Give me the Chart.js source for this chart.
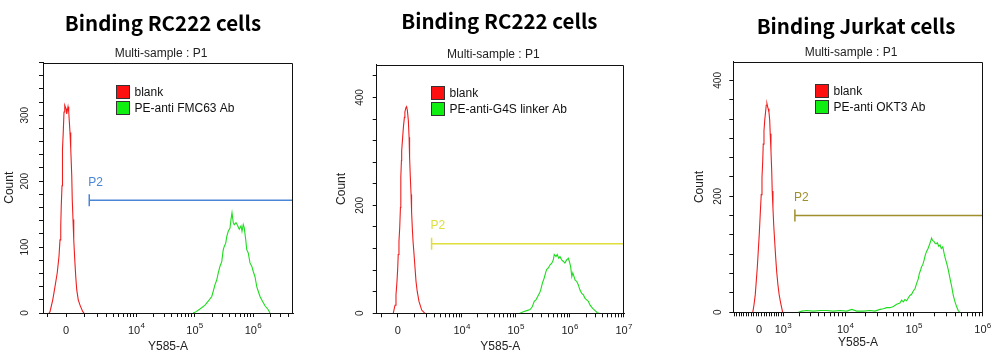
<!DOCTYPE html>
<html><head><meta charset="utf-8">
<script src="https://cdn.jsdelivr.net/npm/chart.js@4.4.1/dist/chart.umd.min.js"></script>
<style>
html,body{margin:0;padding:0;background:#fff;width:1000px;height:354px;overflow:hidden}
canvas{position:absolute;top:0}
</style></head><body>
<canvas id="c0" width="330" height="354" style="left:0px"></canvas>
<canvas id="c1" width="330" height="354" style="left:330px"></canvas>
<canvas id="c2" width="340" height="354" style="left:660px"></canvas>
<script>
// ---------- texts ----------
const titles = ['Binding RC222 cells', 'Binding RC222 cells', 'Binding Jurkat cells'];
const subtitleText = 'Multi-sample : P1';
const xAxisTitle = 'Y585-A';
const yAxisTitle = 'Count';
const blankLabel = 'blank';
const stainLabels = ['PE-anti FMC63 Ab', 'PE-anti-G4S linker Ab', 'PE-anti OKT3 Ab'];
const gateLabel = 'P2';

// ---------- histogram data (x = display channel 0..1000, y = count) ----------
const p1BlankX = [24,28,39,48,57,64,68,71,73,76,77,79,81,84,87,92,95,100,103,105,108,111,115,117,120,123,127,131,135,141,148,159,164];
const p1BlankY = [0,2,20,40,61,86,111,132,162,193,223,249,274,305,315,310,302,313,305,292,274,249,208,172,142,111,81,55,35,20,12,2,0];
const p1StainX = [600,608,628,648,665,675,681,688,695,701,708,715,721,725,731,735,741,748,752,756,761,765,772,777,785,792,796,801,805,811,815,821,828,835,841,848,855,861,868,879,888,901,908];
const p1StainY = [0,1,6,12,20,25,33,43,50,61,71,78,96,101,106,116,124,129,142,152,137,134,137,134,127,132,124,134,129,111,96,91,76,71,63,55,40,33,25,17,11,5,0];

const p2BlankX = [67,74,78,82,85,87,90,93,96,97,98,100,101,104,108,112,114,118,121,124,128,131,133,136,139,141,144,147,151,155,159,164,171,182,195];
const p2BlankY = [0,15,34,59,84,109,133,158,196,220,252,283,301,320,345,363,373,381,383,376,357,326,289,252,220,189,158,133,109,84,59,40,22,6,0];
const p2StainX = [579,593,607,620,629,637,644,651,658,663,670,677,683,687,694,701,708,714,718,725,730,736,741,748,755,761,768,775,779,784,789,793,798,802,809,815,822,829,836,842,849,856,863,873,883,892,900];
const p2StainY = [0,3,5,7,12,22,25,31,37,43,56,65,75,81,84,90,93,99,109,105,109,102,105,99,96,93,99,102,96,87,68,75,68,62,59,53,43,37,34,28,25,22,15,9,5,1,0];

const p3BlankX = [78,83,88,92,96,100,104,108,112,115,118,120,123,126,130,132,135,138,140,143,146,148,151,154,156,159,162,166,170,174,179,184,190,198];
const p3BlankY = [0,13,30,53,76,105,134,169,203,232,261,290,313,331,348,357,360,354,351,345,331,308,279,244,209,180,151,122,94,70,47,30,16,0];
const p3StainX = [261,274,294,321,348,374,401,428,455,475,495,521,548,568,588,602,615,628,642,655,668,675,682,688,695,702,708,715,722,729,735,742,746,751,755,759,765,770,775,781,786,791,795,799,805,809,813,818,824,829,834,840,845,850,856,862,869,876,882,889,896,902,909];
const p3StainY = [0,2,3,2,3,3,2,3,2,5,2,2,3,2,5,6,8,8,10,14,16,21,18,22,20,25,29,31,37,41,50,58,67,73,79,81,90,99,105,110,116,122,128,124,122,119,118,120,114,116,110,113,102,93,84,73,58,44,29,18,9,3,0];

// ---------- gates ----------
const gateStart = [185, 222, 247];   // channel
const gateLevel = [171, 129, 167];   // count

// ---------- axes ----------
const yMax = [380, 461, 432];
const yStep = [20, 40, 200 / 6];
const yLabelStep = [100, 200, 200];
const majorTicks = [[0, 1e4, 1e5, 1e6], [0, 1e4, 1e5, 1e6, 1e7], [0, 1e3, 1e4, 1e5, 1e6]];
const linearTickStep = [1000, 1000, 100];
// biexponential display: channel = a + b * asinh(value / c)
const xform = [{a: 92, b: 101.6, c: 1265}, {a: 85, b: 94.9, c: 1309}, {a: 103, b: 119.7, c: 1115}];

// ---------- styles ----------
const blankColor = 'rgb(238,30,30)', blankBox = '#ff1010';
const stainColor = 'rgb(30,220,30)', stainBox = '#10f010';
const gateColors = ['#4a86d6', '#dede3c', '#a0902c'];
const layoutP = [
  {padL: 0,  padR: 37,   yW: 43,   xH: 41,   tPadT: 10.7, sPadT: 11,   sPadB: 1.8, cntPad: 2.8, xTitlePadB: 0, yTickPad: 5.5, legDx: 73, legDy: 22,   titleDx: -5, subDx: -7},
  {padL: 0,  padR: 36,   yW: 46.7, xH: 40.7, tPadT: 8.7,  sPadT: 13.7, sPadB: 3.1, cntPad: 4.8, xTitlePadB: 0, yTickPad: 4,   legDx: 54, legDy: 21.3, titleDx: -1, subDx: -7},
  {padL: 30, padR: 17.3, yW: 43.3, xH: 41.7, tPadT: 14,   sPadT: 7.2,  sPadB: 1.6, cntPad: 2.8, xTitlePadB: 4, yTickPad: 3,   legDx: 82, legDy: 22,   titleDx: -2, subDx: -7},
];

const blankX = [p1BlankX, p2BlankX, p3BlankX], blankY = [p1BlankY, p2BlankY, p3BlankY];
const stainX = [p1StainX, p2StainX, p3StainX], stainY = [p1StainY, p2StainY, p3StainY];

const FONT = '"Liberation Sans", Arial, Helvetica, sans-serif';
Chart.defaults.font.family = FONT;
Chart.defaults.color = '#222';

function toChannel(v, t) { return t.a + t.b * Math.asinh(v / t.c); }
function xTickValues(i) {
  const s = new Set();
  for (let v = -1000; v <= 1000; v += linearTickStep[i]) s.add(Math.round(v));
  for (let e = 3; e <= 7; e++) for (let k = 1; k <= 9; k++) s.add(k * Math.pow(10, e));
  return [...s].filter(v => { const c = toChannel(v, xform[i]); return c >= 0 && c <= 1000.2; }).sort((a, b) => a - b);
}
function pts(xs, ys) { return xs.map((x, k) => ({x: x, y: ys[k]})); }

const framePlugin = {
  id: 'frame',
  afterDraw(chart) {
    const {ctx, chartArea: a} = chart;
    ctx.save();
    ctx.strokeStyle = '#111'; ctx.lineWidth = 1;
    const top = Math.round(a.top) + 0.5, right = Math.round(a.right) - 0.5;
    ctx.beginPath();
    ctx.moveTo(a.left, top); ctx.lineTo(right, top); ctx.lineTo(right, a.bottom);
    ctx.stroke();
    ctx.restore();
  }
};
// decade labels "10" + raised exponent, drawn at the major tick positions of the x scale
const expLabelPlugin = {
  id: 'expLabels',
  afterDraw(chart, args, opts) {
    const {ctx} = chart;
    const s = chart.scales.x;
    const y = s.top + 18;
    ctx.save();
    ctx.fillStyle = '#222';
    ctx.textBaseline = 'middle';
    ctx.textAlign = 'left';
    opts.values.forEach(v => {
      const x = s.getPixelForValue(toChannel(v, opts.xform));
      if (v === 0) {
        ctx.font = '11px ' + FONT;
        const w = ctx.measureText('0').width;
        ctx.fillText('0', x - w / 2, y);
        return;
      }
      const e = String(Math.round(Math.log10(v)));
      ctx.font = '11px ' + FONT;
      const w1 = ctx.measureText('10').width;
      ctx.font = '8px ' + FONT;
      const w2 = ctx.measureText(e).width;
      const x0 = x - (w1 + w2) / 2;
      ctx.font = '11px ' + FONT;
      ctx.fillText('10', x0, y);
      ctx.font = '8px ' + FONT;
      ctx.fillText(e, x0 + w1 + 0.3, y - 5);
    });
    ctx.restore();
  }
};
const boxLegendPlugin = {
  id: 'boxLegend',
  afterDatasetsDraw(chart, args, opts) {
    const {ctx, chartArea: a} = chart;
    ctx.save();
    ctx.font = '12px ' + FONT;
    ctx.textBaseline = 'middle'; ctx.textAlign = 'left';
    const x = Math.round(a.left + opts.dx);
    let y = Math.round(a.top + opts.dy);
    chart.data.datasets.forEach(ds => {
      if (!ds.legendBox) return;
      ctx.fillStyle = ds.backgroundColor;
      ctx.fillRect(x + 0.5, y + 0.5, 13, 13);
      ctx.strokeStyle = '#333'; ctx.lineWidth = 1;
      ctx.strokeRect(x + 0.5, y + 0.5, 13, 13);
      ctx.fillStyle = '#111';
      ctx.fillText(ds.label, x + 18.5, y + 7.5);
      y += 16;
    });
    ctx.restore();
  }
};
const gateLabelPlugin = {
  id: 'gateLabel',
  afterDatasetsDraw(chart) {
    const ctx = chart.ctx;
    chart.data.datasets.forEach((ds, k) => {
      if (!ds.gate) return;
      const p = chart.getDatasetMeta(k).data[0];
      ctx.save();
      ctx.font = '12px ' + FONT;
      ctx.textBaseline = 'middle'; ctx.textAlign = 'left';
      ctx.fillStyle = ds.borderColor;
      ctx.fillText(ds.label, p.x - 1, p.y - 18);
      ctx.restore();
    });
  }
};
const nudgePlugin = {
  id: 'nudge',
  afterLayout(chart, args, opts) {
    chart.boxes.forEach(b => {
      if (b === chart.titleBlock) { b.left += opts.title; b.right += opts.title; }
      else if (b.options && b.options.text === subtitleText) { b.left += opts.sub; b.right += opts.sub; }
    });
  }
};

function build(i) {
  const L = layoutP[i], t = xform[i];
  const xt = xTickValues(i);
  const xTicks = xt.map(v => toChannel(v, t));
  const yVals = [];
  for (let k = 0; k * yStep[i] <= yMax[i] + 1e-6; k++) yVals.push(k * yStep[i]);
  const yLabels = yVals.map(v => { const r = Math.round(v); return (Math.abs(v - r) < 1e-3 && r % yLabelStep[i] === 0) ? String(r) : ''; });

  new Chart(document.getElementById('c' + i), {
    type: 'line',
    data: {
      datasets: [
        {label: blankLabel, data: pts(blankX[i], blankY[i]), borderColor: blankColor, backgroundColor: blankBox, legendBox: true,
         borderWidth: 1.1, pointRadius: 0, tension: 0, fill: false},
        {label: stainLabels[i], data: pts(stainX[i], stainY[i]), borderColor: stainColor, backgroundColor: stainBox, legendBox: true,
         borderWidth: 1.1, pointRadius: 0, tension: 0, fill: false},
        {label: gateLabel, gate: true, data: [{x: gateStart[i], y: gateLevel[i]}, {x: 1000, y: gateLevel[i]}],
         borderColor: gateColors[i], backgroundColor: gateColors[i], borderWidth: 1.5, tension: 0, fill: false,
         pointStyle: 'line', pointRotation: 90, pointRadius: [6, 0], pointBorderColor: gateColors[i], pointBorderWidth: 1.5}
      ]
    },
    options: {
      responsive: false, animation: false, events: [], devicePixelRatio: 1,
      layout: {padding: {left: L.padL, right: L.padR, top: 0, bottom: 0}},
      plugins: {
        legend: {display: false},
        tooltip: {enabled: false},
        title: {display: true, text: titles[i], fullSize: false, color: '#000',
                font: {family: '"Noto Sans CJK SC", "Noto Sans", sans-serif', size: 20.5, weight: 'bold'},
                padding: {top: L.tPadT, bottom: 0}},
        subtitle: {display: true, text: subtitleText, fullSize: false, color: '#222',
                   font: {size: 12}, padding: {top: L.sPadT, bottom: L.sPadB}},
        boxLegend: {dx: L.legDx, dy: L.legDy},
        expLabels: {values: majorTicks[i], xform: t},
        nudge: {title: L.titleDx, sub: L.subDx}
      },
      scales: {
        x: {
          type: 'linear', min: 0, max: 1000,
          afterBuildTicks: s => { s.ticks = xTicks.map(v => ({value: v})); },
          afterFit: s => { s.height = L.xH; },
          ticks: {autoSkip: false, maxRotation: 0, minRotation: 0, padding: 7, color: '#222', font: {size: 11},
                  callback: () => ''},
          grid: {drawOnChartArea: false, drawTicks: true, tickLength: 4, tickColor: '#111', tickWidth: 1},
          border: {display: true, color: '#111', width: 1},
          title: {display: true, text: xAxisTitle, color: '#222', font: {size: 12}, padding: {top: 0, bottom: L.xTitlePadB}}
        },
        y: {
          type: 'linear', min: 0, max: yMax[i],
          afterBuildTicks: s => { s.ticks = yVals.map(v => ({value: v})); },
          afterFit: s => { s.width = L.yW; },
          ticks: {autoSkip: false, minRotation: 90, maxRotation: 90, crossAlign: 'center', padding: L.yTickPad,
                  color: '#222', font: {size: 10}, callback: (v, k) => yLabels[k]},
          grid: {drawOnChartArea: false, drawTicks: true, tickLength: 4, tickColor: '#111', tickWidth: 1},
          border: {display: true, color: '#111', width: 1},
          title: {display: true, text: yAxisTitle, color: '#222', font: {size: 12}, padding: {top: L.cntPad, bottom: 0}}
        }
      }
    },
    plugins: [framePlugin, expLabelPlugin, boxLegendPlugin, gateLabelPlugin, nudgePlugin]
  });
}
[0, 1, 2].forEach(build);
</script>
</body></html>
